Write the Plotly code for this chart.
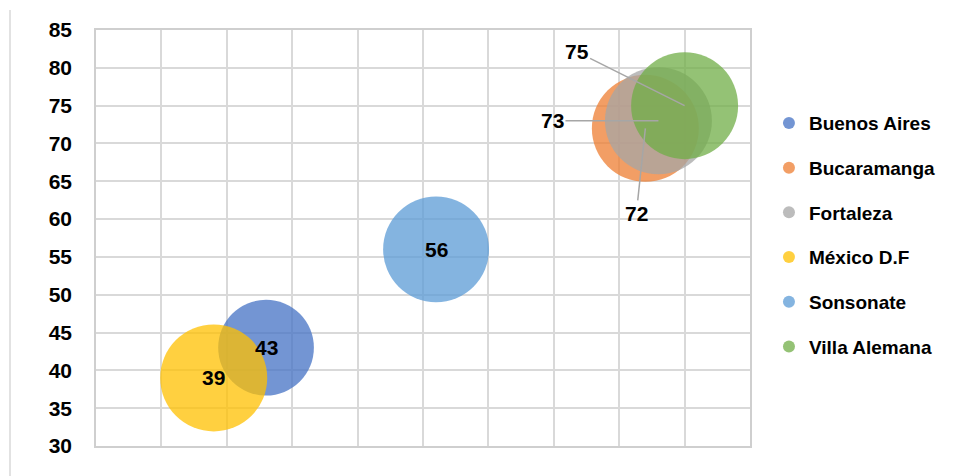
import plotly.graph_objects as go

cities = ["Buenos Aires", "Bucaramanga", "Fortaleza", "México D.F", "Sonsonate", "Villa Alemana"]
x_vals = [43, 72, 73, 39, 56, 75]
y_vals = [43, 72, 73, 39, 56, 75]
bubble = [80, 100, 100, 100, 98, 100]
colors = ["#4472C4", "#ED7D31", "#A5A5A5", "#FFC000", "#5B9BD5", "#70AD47"]
# label offsets (pixels) relative to bubble centre; non-zero ones get a leader line
label_offset = [(0, 0), (-9, 85), (-106, 0), (0, 0), (0, 0), (-108, -54)]

FONT = "Liberation Sans, Arial, sans-serif"
max_d = 107
sizeref = 2 * max(bubble) / (max_d ** 2)

fig = go.Figure()
for i, c in enumerate(cities):
    fig.add_trace(go.Scatter(
        x=[x_vals[i]], y=[y_vals[i]],
        mode="markers",
        marker=dict(size=[bubble[i]], sizemode="area", sizeref=sizeref,
                    color=colors[i], opacity=0.75, line=dict(width=0)),
        name=c, legendgroup=c, hoverinfo="skip",
    ))

annotations = []
for i, c in enumerate(cities):
    ax, ay = label_offset[i]
    has_leader = (ax, ay) != (0, 0)
    annotations.append(dict(
        x=x_vals[i], y=y_vals[i], xref="x", yref="y",
        text=str(y_vals[i]), showarrow=has_leader, arrowhead=0, arrowwidth=1.5,
        arrowcolor="#a6a6a6", ax=ax, ay=ay,
        font=dict(family=FONT, size=21, color="black", weight="bold"),
    ))

fig.update_layout(
    width=954, height=476,
    margin=dict(l=96, r=204, t=30, b=30),
    paper_bgcolor="white", plot_bgcolor="white",
    showlegend=True,
    legend=dict(x=1.029, y=0.507, xanchor="left", yanchor="middle",
                font=dict(family=FONT, size=19, color="black", weight="bold"),
                itemsizing="constant", tracegroupgap=17, bgcolor="rgba(0,0,0,0)"),
    annotations=annotations,
    shapes=[dict(type="line", xref="paper", yref="paper",
                 x0=(10 - 96) / 654, x1=(10 - 96) / 654, y0=-30 / 416, y1=(446 - 10) / 416,
                 line=dict(color="#d9d9d9", width=1.5))],
)
fig.update_xaxes(range=[30, 80], dtick=5, showticklabels=False,
                 showgrid=True, gridcolor="#d9d9d9", gridwidth=1.5,
                 showline=True, linecolor="#cfcfcf", linewidth=1.5, mirror=True,
                 zeroline=False, fixedrange=True)
fig.update_yaxes(range=[30, 85], dtick=5,
                 tickfont=dict(family=FONT, size=21, color="black", weight="bold"),
                 ticklabelstandoff=18,
                 showgrid=True, gridcolor="#d9d9d9", gridwidth=1.5,
                 showline=True, linecolor="#cfcfcf", linewidth=1.5, mirror=True,
                 zeroline=False, fixedrange=True)

fig.write_html("out.html")
